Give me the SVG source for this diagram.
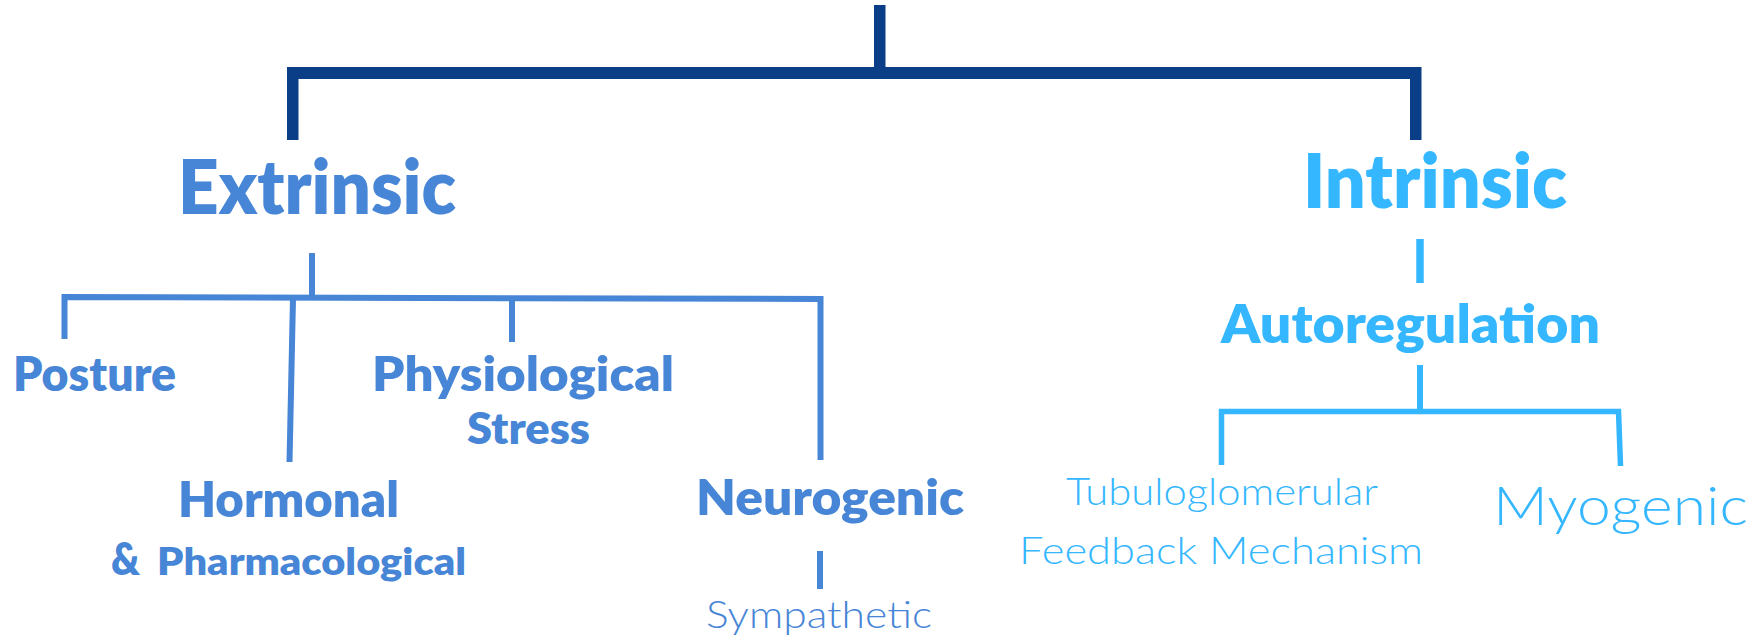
<svg xmlns="http://www.w3.org/2000/svg" width="1762" height="638" viewBox="0 0 1762 638">
  <style>
    .bold { font-family: "Lato", "Open Sans", "Liberation Sans", sans-serif; font-weight: 800; }
    .thin { font-family: "Lato", "Open Sans", "Liberation Sans", sans-serif; font-weight: 300; }
    .mid { fill: #4785D6; }
    .light { fill: #35B7FF; }
    .dark-line { fill: #0A3E87; }
    .mid-line { fill: none; stroke: #4785D6; stroke-width: 6; stroke-linejoin: miter; }
    .light-line { fill: none; stroke: #35B7FF; stroke-width: 6; stroke-linejoin: miter; }
  </style>
  <rect width="1762" height="638" fill="#FFFFFF"/>

  <g id="connectors">
    <!-- top-level bracket -->
    <rect class="dark-line" x="874" y="5" width="11.5" height="68"/>
    <rect class="dark-line" x="287" y="67" width="1134" height="12"/>
    <rect class="dark-line" x="287" y="67" width="11.5" height="73"/>
    <rect class="dark-line" x="1410" y="67" width="11.5" height="73"/>

    <!-- extrinsic branches -->
    <path class="mid-line" d="M312 253 V297"/>
    <path class="mid-line" d="M64.5 339 V297 L820.5 299 V460"/>
    <path class="mid-line" d="M293 298 L289.5 462"/>
    <path class="mid-line" d="M512 298 V342"/>
    <path class="mid-line" d="M820 551 V589"/>

    <!-- intrinsic branches -->
    <path class="light-line" d="M1420 239 V283" style="stroke-width:7.5"/>
    <path class="light-line" d="M1420 365 V411"/>
    <path class="light-line" d="M1221.5 465 V411.5 H1618.5 L1620.5 466" style="stroke-width:5.5"/>
  </g>

  <g id="extrinsic">
    <text class="bold mid" x="178" y="214" font-size="75" textLength="278" lengthAdjust="spacingAndGlyphs">Extrinsic</text>
  </g>
  <g id="posture">
    <text class="bold mid" x="13" y="390.5" font-size="48" textLength="163" lengthAdjust="spacingAndGlyphs">Posture</text>
  </g>
  <g id="physiological-stress">
    <text class="bold mid" x="372" y="390.5" font-size="48" textLength="302" lengthAdjust="spacingAndGlyphs">Physiological</text>
    <text class="bold mid" x="467" y="444" font-size="43" textLength="123" lengthAdjust="spacingAndGlyphs">Stress</text>
  </g>
  <g id="hormonal-pharmacological">
    <text class="bold mid" x="178" y="517" font-size="49" textLength="221" lengthAdjust="spacingAndGlyphs">Hormonal</text>
    <text class="bold mid" x="111" y="575" font-size="45" textLength="29" lengthAdjust="spacingAndGlyphs">&amp;</text>
    <text class="bold mid" x="157" y="575" font-size="38" textLength="309" lengthAdjust="spacingAndGlyphs">Pharmacological</text>
  </g>
  <g id="neurogenic">
    <text class="bold mid" x="696" y="515" font-size="49" textLength="268" lengthAdjust="spacingAndGlyphs">Neurogenic</text>
  </g>
  <g id="sympathetic">
    <text class="thin mid" x="706" y="628" font-size="37" textLength="226" lengthAdjust="spacingAndGlyphs">Sympathetic</text>
  </g>

  <g id="intrinsic">
    <text class="bold light" x="1303" y="207.5" font-size="76" textLength="264" lengthAdjust="spacingAndGlyphs">Intrinsic</text>
  </g>
  <g id="autoregulation">
    <text class="bold light" x="1221" y="343" font-size="53" textLength="379" lengthAdjust="spacingAndGlyphs">Autoregulation</text>
  </g>
  <g id="tubuloglomerular-feedback">
    <text class="thin light" x="1066" y="505" font-size="37" textLength="312" lengthAdjust="spacingAndGlyphs">Tubuloglomerular</text>
    <text class="thin light" x="1019" y="564" font-size="37" textLength="404" lengthAdjust="spacingAndGlyphs">Feedback Mechanism</text>
  </g>
  <g id="myogenic">
    <text class="thin light" x="1493" y="525" font-size="53" textLength="255" lengthAdjust="spacingAndGlyphs">Myogenic</text>
  </g>
</svg>
